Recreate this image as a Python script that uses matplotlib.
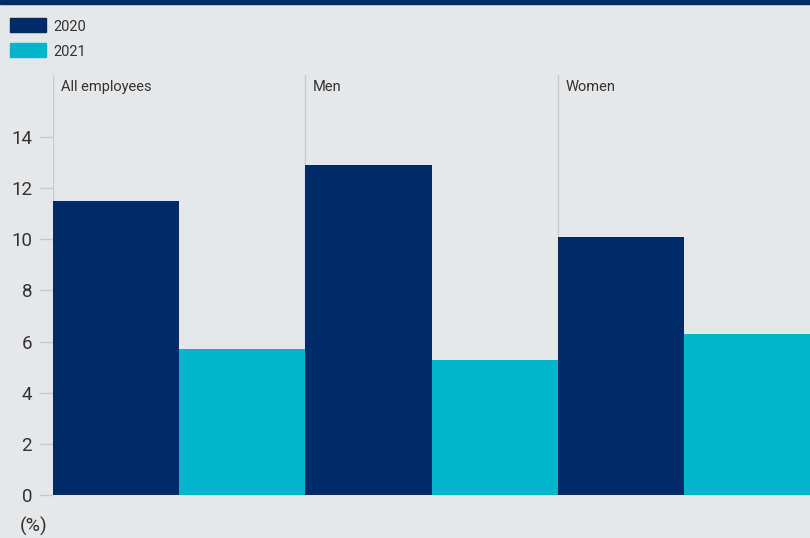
import matplotlib.pyplot as plt
from matplotlib.patches import Rectangle

groups = ['All employees', 'Men', 'Women']
years = ['2020', '2021']
vals_2020 = [11.5, 12.9, 10.1]
vals_2021 = [5.7, 5.3, 6.3]
yticks = [0, 2, 4, 6, 8, 10, 12, 14]

navy = '#002b69'
cyan = '#00b5cc'
bg = '#e6e7e9'
grid = '#c9cacc'
txt = '#333333'

plt.rcParams['font.family'] = ['Roboto', 'DejaVu Sans']

fig = plt.figure(figsize=(8.1, 5.38), dpi=100)
fig.patch.set_facecolor(bg)

# navy band along the top edge
fig.patches.append(Rectangle((0, 1 - 4 / 538), 1, 4 / 538, transform=fig.transFigure,
                             color=navy, zorder=5))

ax = fig.add_axes([53 / 810, 43 / 538, 1 - 53 / 810, 420 / 538])
ax.set_facecolor(bg)

w = 0.5
x = range(len(groups))
ax.bar([i for i in x], vals_2020, width=w, align='edge', color=navy, zorder=3)
ax.bar([i + w for i in x], vals_2021, width=w, align='edge', color=cyan, zorder=3)

ax.set_xlim(0, 3)
ax.set_ylim(0, 16.43)

for i, g in enumerate(groups):
    ax.axvline(i, color=grid, lw=1, zorder=1)
    ax.text(i + 0.03, 15.97, g, fontsize=10.5, color=txt, va='center', ha='left')

for s in ax.spines.values():
    s.set_visible(False)

ax.set_xticks([])
ax.set_yticks(yticks)
ax.tick_params(axis='y', length=10, width=1, color=grid, pad=5, labelsize=13.5,
               labelcolor=txt)

fig.text(20 / 810, 1 - 526 / 538, '(%)', fontsize=14, color=txt, va='center', ha='left')

# legend swatches
for j, (yr, c) in enumerate(zip(years, [navy, cyan])):
    y0 = 1 - (18 + 25 * j + 14) / 538
    fig.patches.append(Rectangle((10 / 810, y0), 36 / 810, 14 / 538,
                                 transform=fig.transFigure, color=c))
    fig.text(53 / 810, y0 + 5 / 538, yr, fontsize=10.5, color=txt, va='center', ha='left')

fig.savefig('out.png', dpi=100, facecolor=bg)
